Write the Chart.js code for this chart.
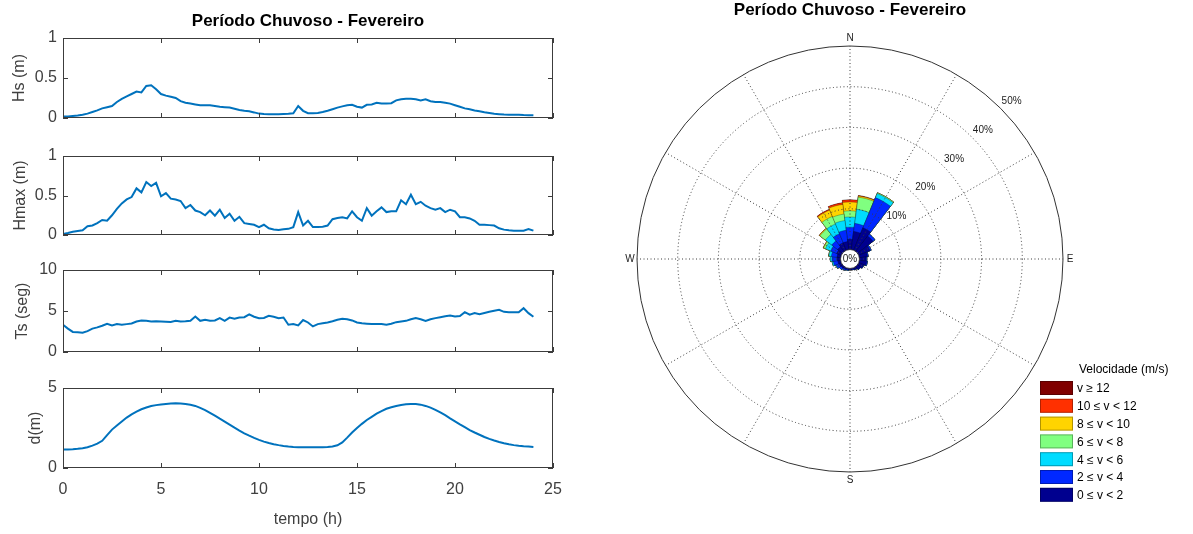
<!DOCTYPE html>
<html>
<head>
<meta charset="utf-8">
<script src="https://cdn.jsdelivr.net/npm/chart.js@4.4.1/dist/chart.umd.min.js"></script>
<style>
  html, body { margin: 0; padding: 0; background: #fff; }
  #wrap { position: relative; width: 1193px; height: 534px; overflow: hidden; }
  canvas { position: absolute; }
</style>
</head>
<body>
<div id="wrap">
  <canvas id="hsChart" width="580" height="138" style="left:0;top:0"></canvas>
  <canvas id="hmaxChart" width="580" height="119" style="left:0;top:136px"></canvas>
  <canvas id="tsChart" width="580" height="122" style="left:0;top:250px"></canvas>
  <canvas id="dChart" width="580" height="166" style="left:0;top:368px"></canvas>
  <canvas id="roseChart" width="593" height="534" style="left:600px;top:0"></canvas>
</div>
<script>
// ---------- data: time series (hours) ----------
const timeHours = [0,0.25,0.5,0.75,1,1.25,1.5,1.75,2,2.25,2.5,2.75,3,3.25,3.5,3.75,4,4.25,4.5,4.75,
  5,5.25,5.5,5.75,6,6.25,6.5,6.75,7,7.25,7.5,7.75,8,8.25,8.5,8.75,9,9.25,9.5,9.75,
  10,10.25,10.5,10.75,11,11.25,11.5,11.75,12,12.25,12.5,12.75,13,13.25,13.5,13.75,14,14.25,14.5,14.75,
  15,15.25,15.5,15.75,16,16.25,16.5,16.75,17,17.25,17.5,17.75,18,18.25,18.5,18.75,19,19.25,19.5,19.75,
  20,20.25,20.5,20.75,21,21.25,21.5,21.75,22,22.25,22.5,22.75,23,23.25,23.5,23.75,24];

const hsValues = [0.02,0.02,0.025,0.03,0.04,0.055,0.075,0.095,0.12,0.135,0.15,0.2,0.24,0.27,0.3,0.33,0.32,0.40,0.41,0.36,
  0.30,0.28,0.265,0.25,0.21,0.19,0.18,0.17,0.16,0.16,0.16,0.15,0.14,0.135,0.13,0.115,0.10,0.09,0.083,0.07,
  0.055,0.05,0.047,0.046,0.048,0.05,0.052,0.058,0.15,0.09,0.06,0.058,0.062,0.075,0.09,0.11,0.13,0.145,0.16,0.165,
  0.14,0.13,0.165,0.17,0.19,0.18,0.18,0.185,0.22,0.235,0.24,0.24,0.235,0.22,0.235,0.21,0.2,0.2,0.19,0.18,
  0.16,0.14,0.12,0.11,0.095,0.085,0.072,0.062,0.053,0.048,0.043,0.042,0.042,0.04,0.036,0.034,0.033];

const hmaxValues = [0.013,0.025,0.04,0.05,0.06,0.11,0.12,0.15,0.19,0.18,0.25,0.33,0.4,0.45,0.48,0.59,0.54,0.67,0.62,0.66,
  0.49,0.53,0.46,0.45,0.43,0.34,0.38,0.31,0.29,0.25,0.31,0.245,0.32,0.215,0.27,0.18,0.23,0.15,0.14,0.13,
  0.10,0.13,0.085,0.07,0.064,0.072,0.078,0.10,0.29,0.12,0.18,0.10,0.10,0.105,0.12,0.20,0.215,0.225,0.21,0.30,
  0.225,0.18,0.34,0.245,0.30,0.35,0.29,0.30,0.30,0.44,0.39,0.51,0.39,0.42,0.37,0.34,0.32,0.34,0.29,0.32,
  0.30,0.225,0.225,0.21,0.18,0.13,0.13,0.125,0.12,0.085,0.068,0.06,0.055,0.055,0.055,0.076,0.055];

const tsValues = [3.32,2.85,2.45,2.4,2.35,2.55,2.85,3.0,3.2,3.45,3.25,3.4,3.32,3.4,3.48,3.72,3.85,3.8,3.72,3.75,
  3.72,3.68,3.65,3.8,3.72,3.74,3.8,4.33,3.8,3.93,3.8,3.85,4.13,3.8,4.2,4.05,4.2,4.25,4.6,4.3,
  4.13,4.15,4.41,4.3,4.13,4.2,3.32,3.4,3.24,3.9,3.6,3.12,3.4,3.5,3.6,3.75,3.93,4.05,4.0,3.85,
  3.6,3.5,3.45,3.4,3.42,3.4,3.33,3.45,3.64,3.72,3.8,4.0,4.13,4.0,3.8,4.0,4.13,4.25,4.35,4.45,
  4.33,4.4,4.86,4.55,4.74,4.6,4.75,4.9,5.02,5.14,4.9,4.86,4.86,4.85,5.34,4.74,4.3];

const dValues = [1.15,1.15,1.17,1.2,1.24,1.3,1.4,1.52,1.7,2.05,2.4,2.65,2.9,3.15,3.35,3.52,3.67,3.78,3.87,3.93,
  3.97,4.0,4.03,4.04,4.03,4.0,3.95,3.88,3.76,3.62,3.45,3.27,3.08,2.9,2.71,2.52,2.34,2.17,2.02,1.88,
  1.76,1.65,1.56,1.49,1.43,1.38,1.34,1.31,1.3,1.29,1.29,1.29,1.29,1.3,1.31,1.34,1.42,1.6,1.9,2.22,
  2.5,2.76,3.0,3.2,3.4,3.56,3.7,3.8,3.88,3.94,3.98,4.0,4.0,3.96,3.88,3.77,3.63,3.47,3.3,3.1,
  2.92,2.73,2.55,2.37,2.22,2.08,1.94,1.82,1.72,1.63,1.55,1.48,1.43,1.39,1.36,1.34,1.32];

const xTickValues = [0, 5, 10, 15, 20, 25];

// ---------- data: wind rose (% of occurrences per direction) ----------
const directions = [0,15,30,45,60,75,90,105,120,135,150,165,180,195,210,225,240,255,270,285,300,315,330,345];
const freq0to2   = [2.5,4.5,6.0,4.8,3.0,2.0,1.6,1.8,1.3,0.9,0.5,0.3,0.3,0.3,0.4,0.5,0.6,0.7,0.8,0.9,1.2,1.5,2.0,2.0];
const freq2to4   = [3.0,2.0,8.0,0.6,0.3,0.2,0.2,0.2,0.1,0.1,0.1,0.1,0.1,0.2,0.3,0.5,0.8,1.1,1.3,1.4,1.6,1.8,2.4,2.8];
const freq4to6   = [2.5,3.5,1.1,0,0,0,0,0,0,0,0,0,0,0,0,0,0.1,0.3,0.4,0.6,1.4,2.0,2.6,2.4];
const freq6to8   = [1.5,3.0,0.2,0,0,0,0,0,0,0,0,0,0,0,0,0,0,0,0,0.1,0.5,1.7,2.0,1.6];
const freq8to10  = [2.2,0.3,0,0,0,0,0,0,0,0,0,0,0,0,0,0,0,0,0,0,0.1,0.2,1.7,2.4];
const freq10to12 = [0.5,0.1,0,0,0,0,0,0,0,0,0,0,0,0,0,0,0,0,0,0,0,0,0.2,0.4];
const freq12plus = [0,0,0,0,0,0,0,0,0,0,0,0,0,0,0,0,0,0,0,0,0,0,0,0];
const speedLabels = ['0 \u2264 v < 2', '2 \u2264 v < 4', '4 \u2264 v < 6', '6 \u2264 v < 8',
  '8 \u2264 v < 10', '10 \u2264 v < 12', 'v \u2265 12'];
const ringValues = [10, 20, 30, 40, 50];
const spokeAngles = [0, 30, 60, 90, 120, 150, 180, 210, 240, 270, 300, 330];

// ---------- style ----------
const FONT = "'Liberation Sans', Arial, Helvetica, sans-serif";
const AXIS_COLOR = '#404040';
const LINE_COLOR = '#0072BD';
const speedColors = ['#00008F', '#0028FF', '#00DCFF', '#80FF80', '#FFD400', '#FF3000', '#800000'];
const TITLE_TEXT = 'Per\u00edodo Chuvoso - Fevereiro';

Chart.defaults.font.family = FONT;
Chart.defaults.color = AXIS_COLOR;

/* box round the axes, with MATLAB-like inward ticks */
const boxFrame = {
  id: 'boxFrame',
  afterDatasetsDraw(chart) {
    const { ctx, chartArea: a, scales: { x, y } } = chart;
    ctx.save();
    ctx.strokeStyle = '#3c3c3c';
    ctx.lineWidth = 1;
    ctx.strokeRect(Math.round(a.left) + 0.5, Math.round(a.top) + 0.5,
      Math.round(a.width) - 1, Math.round(a.height) - 1);
    ctx.beginPath();
    xTickValues.forEach(v => {
      const px = Math.round(x.getPixelForValue(v)) + 0.5;
      ctx.moveTo(px, a.bottom); ctx.lineTo(px, a.bottom - 5);
      ctx.moveTo(px, a.top); ctx.lineTo(px, a.top + 5);
    });
    y.ticks.forEach(t => {
      const py = Math.round(y.getPixelForValue(t.value)) + 0.5;
      ctx.moveTo(a.left, py); ctx.lineTo(a.left + 5, py);
      ctx.moveTo(a.right, py); ctx.lineTo(a.right - 5, py);
    });
    ctx.stroke();
    ctx.restore();
  }
};

function makePanel(id, values, cfg) {
  const points = timeHours.map((t, i) => ({ x: t, y: values[i] }));
  return new Chart(document.getElementById(id), {
    type: 'line',
    data: {
      datasets: [{
        data: points,
        borderColor: LINE_COLOR,
        borderWidth: 2,
        pointRadius: 0,
        tension: 0
      }]
    },
    options: {
      responsive: false,
      animation: false,
      devicePixelRatio: 1,
      layout: { padding: { left: 0, right: 27, top: cfg.padTop, bottom: cfg.padBottom } },
      plugins: {
        legend: { display: false },
        tooltip: { enabled: false },
        title: cfg.title ? {
          display: true, text: cfg.title, fullSize: false, color: '#000',
          font: { size: 17, weight: 'bold' }, padding: { top: 10.8, bottom: 6.8 }
        } : { display: false }
      },
      scales: {
        x: {
          type: 'linear', min: 0, max: 25,
          display: !!cfg.showX,
          ticks: { stepSize: 5, padding: 12, color: AXIS_COLOR, font: { size: 16 }, callback: v => String(v) },
          grid: { display: false, drawTicks: false },
          border: { display: false },
          title: { display: !!cfg.showX, text: 'tempo (h)', color: AXIS_COLOR, font: { size: 16 },
            padding: { top: 0, bottom: 5 } },
          afterFit: (s) => { if (cfg.showX) s.height = 66; }
        },
        y: {
          min: 0, max: cfg.yMax,
          ticks: { stepSize: cfg.yStep, padding: 6, color: AXIS_COLOR, font: { size: 16 }, callback: v => String(v) },
          grid: { display: false, drawTicks: false },
          border: { display: false },
          title: { display: true, text: cfg.yTitle, color: AXIS_COLOR, font: { size: 16 },
            padding: { top: cfg.yTitlePad, bottom: 0 } },
          afterFit: (s) => { s.width = 63; }
        }
      }
    },
    plugins: [boxFrame]
  });
}

makePanel('hsChart', hsValues, { yMax: 1, yStep: 0.5, yTitle: 'Hs (m)', yTitlePad: 10, padTop: 0, padBottom: 20, title: TITLE_TEXT });
makePanel('hmaxChart', hmaxValues, { yMax: 1, yStep: 0.5, yTitle: 'Hmax (m)', yTitlePad: 11, padTop: 20, padBottom: 20 });
makePanel('tsChart', tsValues, { yMax: 10, yStep: 5, yTitle: 'Ts (seg)', yTitlePad: 13, padTop: 20, padBottom: 20 });
makePanel('dChart', dValues, { yMax: 5, yStep: 5, yTitle: 'd(m)', yTitlePad: 26, padTop: 20, padBottom: 0, showX: true });

// ---------- wind rose ----------
const speedClasses = [freq0to2, freq2to4, freq4to6, freq6to8, freq8to10, freq10to12, freq12plus];
// stacked: each dataset is the running total, the smallest drawn last (on top)
const roseDatasets = [];
let running = directions.map(() => 0);
speedClasses.forEach((cls, k) => {
  running = running.map((v, i) => v + cls[i]);
  roseDatasets.push({
    label: speedLabels[k],
    data: running.slice(),
    backgroundColor: speedColors[k],
    borderColor: 'rgba(0,0,0,0.45)',
    borderWidth: 0.6
  });
});

const roseDecor = {
  id: 'roseDecor',
  afterDatasetsDraw(chart) {
    const ctx = chart.ctx;
    const r = chart.scales.r;
    const cx = r.xCenter, cy = r.yCenter;
    const rad = v => r.getDistanceFromCenterForValue(v);
    const r0 = rad(0), rOuter = rad(ringValues[ringValues.length - 1]);
    ctx.save();

    // dotted rings and spokes
    ctx.strokeStyle = '#3a3a3a';
    ctx.lineWidth = 1;
    ctx.setLineDash([1, 2.5]);
    ringValues.slice(0, -1).forEach(v => {
      ctx.beginPath(); ctx.arc(cx, cy, rad(v), 0, 2 * Math.PI); ctx.stroke();
    });
    spokeAngles.forEach(deg => {
      const a = (deg - 90) * Math.PI / 180;
      ctx.beginPath();
      ctx.moveTo(cx + r0 * Math.cos(a), cy + r0 * Math.sin(a));
      ctx.lineTo(cx + rOuter * Math.cos(a), cy + rOuter * Math.sin(a));
      ctx.stroke();
    });
    ctx.setLineDash([]);
    ctx.strokeStyle = '#333';
    ctx.beginPath(); ctx.arc(cx, cy, rOuter, 0, 2 * Math.PI); ctx.stroke();

    // centre hole
    ctx.fillStyle = '#fff';
    ctx.beginPath(); ctx.arc(cx, cy, r0, 0, 2 * Math.PI); ctx.fill();
    ctx.strokeStyle = '#222'; ctx.lineWidth = 0.8; ctx.stroke();
    ctx.fillStyle = '#222';
    ctx.font = '10px ' + FONT;
    ctx.textAlign = 'center'; ctx.textBaseline = 'middle';
    ctx.fillText('0%', cx, cy);

    // ring labels along 45 degrees
    ctx.textAlign = 'left';
    ringValues.forEach(v => {
      const d = rad(v) * Math.SQRT1_2;
      ctx.fillText(v + '%', cx + d + 1, cy - d - 7);
    });

    // compass letters
    ctx.textAlign = 'center';
    ctx.fillText('N', cx, cy - rOuter - 8);
    ctx.fillText('S', cx, cy + rOuter + 8);
    ctx.fillText('E', cx + rOuter + 7, cy);
    ctx.fillText('W', cx - rOuter - 7, cy);

    // legend, highest class on top
    const lx = 440, ly = 388, step = 17.8;
    ctx.font = '12px ' + FONT;
    ctx.textAlign = 'left';
    ctx.fillStyle = '#000';
    ctx.fillText('Velocidade (m/s)', 479, 370);
    const ds = chart.data.datasets;
    for (let k = ds.length - 1, row = 0; k >= 0; k--, row++) {
      const yy = ly + row * step;
      ctx.fillStyle = ds[k].backgroundColor;
      ctx.fillRect(lx, yy - 7, 33, 14);
      ctx.strokeStyle = 'rgba(0,0,0,0.3)'; ctx.lineWidth = 1;
      ctx.strokeRect(lx + 0.5, yy - 6.5, 32, 13);
      ctx.fillStyle = '#000';
      ctx.fillText(ds[k].label, lx + 37, yy + 1);
    }
    ctx.restore();
  }
};

new Chart(document.getElementById('roseChart'), {
  type: 'polarArea',
  data: { labels: directions.map(d => d + '\u00b0'), datasets: roseDatasets },
  options: {
    responsive: false,
    animation: false,
    devicePixelRatio: 1,
    layout: { padding: { left: 37, right: 130, top: 0, bottom: 62 } },
    plugins: {
      legend: { display: false },
      tooltip: { enabled: false },
      title: {
        display: true, text: TITLE_TEXT, fullSize: false, color: '#000',
        font: { size: 17, weight: 'bold' }, padding: { top: 0, bottom: 25.6 }
      }
    },
    scales: {
      r: { min: -2.33, max: 50, startAngle: -7.5, display: false }
    }
  },
  plugins: [roseDecor]
});
</script>
</body>
</html>
